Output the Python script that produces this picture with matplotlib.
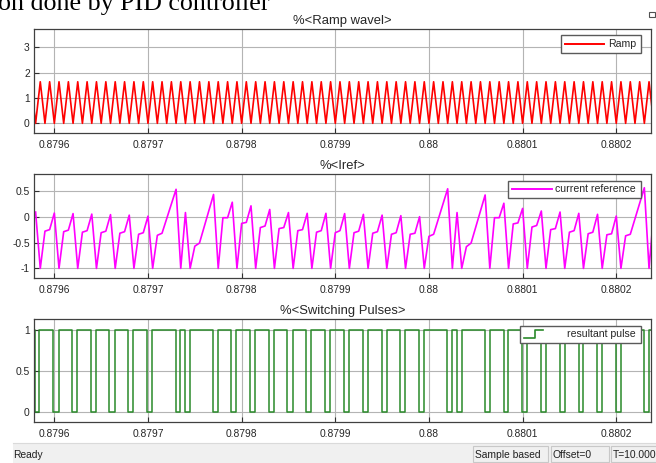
from matplotlib import pyplot as plt
import matplotlib.ticker as ticker
from matplotlib.patches import Rectangle
from matplotlib.lines import Line2D
import numpy as np

plt.rcParams['font.family'] = ['Liberation Sans', 'DejaVu Sans']
plt.rcParams['axes.unicode_minus'] = False

# time axis: microseconds after 0.8796 s
T0 = 0.8796
x_ticks = [0.8796, 0.8797, 0.8798, 0.8799, 0.88, 0.8801, 0.8802]
u_left, u_right = -21.7, 637.1

# carrier (triangle) - one half period
ramp_levels = [0.0, 1.64]
ramp_step_us = 5
ramp_count = 136

# current reference samples
iref_us = [
    -20, -15, -10, -5,
    0, 5, 10, 15,
    20, 25, 30, 35,
    40, 45, 50, 55,
    60, 65, 70, 75,
    80, 85, 90, 95,
    100, 105, 110, 115,
    130, 135, 140, 145, 150, 155,
    170, 175, 180, 185,
    190, 195, 200, 205,
    210, 215, 220, 225,
    230, 235, 240, 245,
    250, 255, 260, 265,
    270, 275, 280, 285,
    290, 295, 300, 305,
    310, 315, 320, 325,
    330, 335, 340, 345,
    350, 355, 360, 365,
    370, 375, 380, 385,
    390, 395, 400, 405,
    420, 425, 430, 435, 440, 445,
    460, 465, 470, 475,
    480, 485, 490, 495,
    500, 505, 510, 515,
    520, 525, 530, 535,
    540, 545, 550, 555,
    560, 565, 570, 575,
    580, 585, 590, 595,
    600, 605, 610, 615,
    630, 635, 640,
]
iref_val = [
    0.09, -1, -0.28, -0.25,
    0.07, -1, -0.29, -0.26,
    0.06, -1, -0.30, -0.27,
    0.05, -1, -0.31, -0.28,
    0.04, -1, -0.32, -0.29,
    0.03, -1, -0.34, -0.31,
    0.01, -1, -0.36, -0.32,
    0.53, -1, 0.08, -1, -0.57, -0.51,
    0.43, -1, -0.02, -0.02,
    0.28, -1, -0.13, -0.11,
    0.21, -1, -0.21, -0.18,
    0.14, -1, -0.23, -0.21,
    0.08, -1, -0.27, -0.25,
    0.065, -1, -0.30, -0.27,
    0.065, -1, -0.31, -0.27,
    0.06, -1, -0.31, -0.28,
    0.045, -1, -0.32, -0.29,
    0.03, -1, -0.34, -0.31,
    0.02, -1, -0.34, -0.32,
    0.0, -1, -0.38, -0.34,
    0.54, -1, 0.08, -1, -0.58, -0.51,
    0.42, -1, -0.02, -0.02,
    0.26, -1, -0.14, -0.12,
    0.16, -1, -0.20, -0.17,
    0.11, -1, -0.25, -0.23,
    0.09, -1, -0.30, -0.27,
    0.065, -1, -0.33, -0.30,
    0.046, -1, -0.35, -0.33,
    0.013, -1, -0.37, -0.34,
    0.56, -1, 0.08,
]

# switching pulse: times (us) where it goes low / back high
pulse_fall_us = [-20.3, -1.0, 18.9, 38.8, 58.7, 78.7, 98.6, 129.6, 139.2, 169.1,
                 189.0, 208.9, 228.9, 248.8, 268.7, 288.7, 309.3, 329.2, 349.5,
                 369.4, 389.7, 419.6, 429.6, 459.4, 479.8, 499.6, 519.6, 539.5,
                 559.8, 579.7, 599.6, 629.5]
pulse_rise_us = [-16.0, 4.7, 24.6, 44.5, 64.5, 84.4, 104.3, 134.2, 144.5, 174.8,
                 194.3, 214.6, 234.6, 254.5, 274.4, 294.3, 314.6, 334.5, 354.9,
                 374.7, 395.0, 424.6, 434.9, 464.8, 484.7, 505.0, 524.9, 544.8,
                 564.8, 585.0, 604.9, 635.2]

W, H = 656, 463
RED = '#ff0000'
MAGENTA = '#ff00ff'
GREEN = '#2a8a2a'


def to_t(u):
    return T0 + np.asarray(u, dtype=float) * 1e-6


def fbox(left, top, right, bottom):
    # pixel box -> figure fraction
    return [left / W, 1 - bottom / H, (right - left) / W, (bottom - top) / H]


def fx(x):
    return x / W


def fy(y):
    return 1 - y / H


def scope_axes(fig, box, title, ylim, yticks):
    ax = fig.add_axes(fbox(*box))
    ax.set_xlim(to_t(u_left), to_t(u_right))
    ax.set_ylim(ylim)
    ax.xaxis.set_major_locator(ticker.FixedLocator(x_ticks))
    ax.xaxis.set_major_formatter(ticker.FuncFormatter(lambda v, p: '{:g}'.format(round(v, 6))))
    ax.yaxis.set_major_locator(ticker.FixedLocator(yticks))
    ax.yaxis.set_major_formatter(ticker.FuncFormatter(lambda v, p: '{:g}'.format(v)))
    ax.grid(color='#b4b4b4', linewidth=0.8)
    ax.set_axisbelow(True)
    ax.tick_params(direction='in', length=3.5, width=0.8, color='#303030',
                   labelsize=7.4, labelcolor='#262626')
    ax.tick_params(axis='x', pad=5)
    ax.tick_params(axis='y', pad=3)
    for s in ax.spines.values():
        s.set_color('#404040')
        s.set_linewidth(0.9)
    ax.set_title(title, fontsize=9.4, color='#262626', pad=3.5)
    return ax


def scope_legend(fig, box, line_x, label, colour, step=False):
    left, top, right, bottom = box
    fig.add_artist(Rectangle((fx(left), fy(bottom)), fx(right - left), (bottom - top) / H,
                             transform=fig.transFigure, facecolor='white',
                             edgecolor='#5a5a5a', linewidth=1.0, zorder=5))
    ym = (top + bottom) / 2
    if step:
        xs = [line_x[0], (line_x[0] + line_x[1]) / 2 + 1, (line_x[0] + line_x[1]) / 2 + 1, line_x[1]]
        ys = [ym + 4, ym + 4, ym - 4, ym - 4]
        fig.add_artist(Line2D([fx(v) for v in xs], [fy(v) for v in ys], transform=fig.transFigure,
                              color=colour, linewidth=1.2, zorder=6))
    else:
        fig.add_artist(Line2D([fx(line_x[0]), fx(line_x[1])], [fy(ym), fy(ym)],
                              transform=fig.transFigure, color=colour, linewidth=1.4, zorder=6))
    fig.text(fx(right - 5), fy(ym), label, ha='right', va='center', fontsize=7.6,
             color='#262626', zorder=7)


fig = plt.figure(figsize=(W / 100, H / 100), dpi=100)
fig.patch.set_facecolor('white')

# cut-off document text above the scope
fig.text(fx(-2), fy(10), 'on done by PID controller', family='Liberation Serif',
         fontsize=18.7, ha='left', va='baseline', color='black')

# ramp
ax1 = scope_axes(fig, (34, 29.3, 651, 132.7), '%<Ramp wavel>', (-0.37, 3.71), [0, 1, 2, 3])
ramp_u = np.arange(ramp_count) * ramp_step_us - 30
ramp_v = np.tile(ramp_levels, ramp_count // 2)
ax1.plot(to_t(ramp_u), ramp_v, color=RED, linewidth=1.2)
scope_legend(fig, (560.7, 35, 641, 52.7), (565, 604), 'Ramp', RED)

# current reference
ax2 = scope_axes(fig, (34, 174.3, 651, 277.7), '%<Iref>', (-1.18, 0.82), [-1, -0.5, 0, 0.5])
ax2.plot(to_t(iref_us), iref_val, color=MAGENTA, linewidth=1.2)
scope_legend(fig, (508.3, 181, 641, 197.7), (511.7, 551.7), 'current reference', MAGENTA)

# switching pulses
ax3 = scope_axes(fig, (34, 319.3, 651, 422), '%<Switching Pulses>', (-0.126, 1.13), [0, 0.5, 1])
pt, pl = [u_left], [1]
for f, r in zip(pulse_fall_us, pulse_rise_us):
    pt += [f, r]
    pl += [0, 1]
pt.append(u_right + 5)
pl.append(1)
ax3.step(to_t(pt), pl, where='post', color=GREEN, linewidth=1.1)
scope_legend(fig, (520, 326, 641, 342.7), (524.3, 543.3), 'resultant pulse', GREEN, step=True)

# undock icon top right
fig.add_artist(Rectangle((fx(649), fy(17)), fx(6), 5 / H, transform=fig.transFigure,
                         facecolor='white', edgecolor='#505050', linewidth=0.8))

# status bar
fig.add_artist(Rectangle((fx(13), 0), fx(W - 13), 20 / H, transform=fig.transFigure,
                         facecolor='#f0f0f0', edgecolor='none'))
fig.add_artist(Line2D([fx(13), 1], [fy(443.3), fy(443.3)], transform=fig.transFigure,
                      color='#dadada', linewidth=0.8))
fig.text(fx(13), fy(455), 'Ready', ha='left', va='center', fontsize=7.4, color='#202020')
for (l, r), txt in zip([(472.7, 548.3), (550.5, 608.5), (610.5, 660)],
                       ['Sample based', 'Offset=0', 'T=10.000']):
    fig.add_artist(Rectangle((fx(l), fy(462)), fx(r - l), 16 / H, transform=fig.transFigure,
                             facecolor='#f0f0f0', edgecolor='#c8c8c8', linewidth=0.8))
    fig.text(fx(l + 2), fy(455), txt, ha='left', va='center', fontsize=7.4, color='#202020')

fig.savefig('out.png', dpi=100, facecolor='white')
